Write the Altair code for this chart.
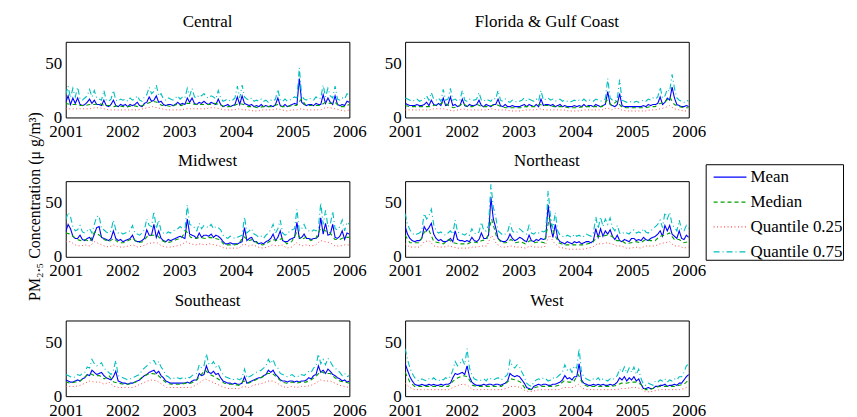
import altair as alt
import pandas as pd

regions = ["Central", "Florida & Gulf Coast", "Midwest", "Northeast", "Southeast", "West"]
series_names = ["Mean", "Median", "Quantile 0.25", "Quantile 0.75"]
series_colors = ["#0000ff", "#00a000", "#ff4d4d", "#00bfbf"]
series_dashes = [[1, 0], [4, 3], [1, 2.5], [6, 3, 1, 3]]
year_ticks = [2001, 2002, 2003, 2004, 2005, 2006]
y_ticks = [0, 50]
y_title = "PM₂.₅ Concentration (μ g/m³)"

# ---- Central ----
central_q75 = [21,29,18,27,19,28,17,16,18,20,26,19,25,18,17,16,25,16,15,17,25,16,15,17,
               16,17,15,18,16,17,20,16,15,19,21,28,22,24,30,20,22,17,16,18,17,16,18,20,
               17,19,18,27,20,27,19,18,21,20,22,19,18,20,19,17,25,18,15,16,17,15,16,18,
               29,18,30,19,17,16,18,15,16,15,17,15,16,14,16,15,17,26,16,15,17,15,16,18,
               19,18,46,20,17,16,18,17,16,19,17,18,30,19,27,20,18,29,17,16,18,17,22,21]
central_mean = [14,20,12,18,13,18,12,11,12,14,17,13,16,12,12,11,16,11,10,12,16,11,10,12,
                11,12,10,12,11,12,14,11,10,13,14,19,15,16,20,14,15,12,11,12,12,11,12,14,
                12,13,12,18,14,18,13,12,14,13,15,13,12,14,13,12,17,12,10,11,12,10,11,12,
                19,12,20,13,12,11,12,10,11,10,12,10,11,10,11,10,12,18,11,10,12,10,11,12,
                13,12,36,14,12,11,12,12,11,13,12,12,21,13,18,14,12,20,12,11,12,11,15,14]
central_median = [13,12,12,11,11,12,12,13,11,11,10,11,
                  10,10,11,10,11,13,15,14,11,11,10,12,
                  11,13,13,12,12,12,12,13,12,10,10,11,
                  13,12,10,10,9,10,10,10,12,10,10,11,
                  11,17,11,11,11,11,14,13,14,10,10,12]
central_q25 = [8,8,8,8,8,8,9,9,8,7,7,7,
               7,7,7,7,8,9,10,9,8,7,7,7,
               7,8,8,8,8,8,9,9,8,7,7,7,
               8,7,7,6,6,7,7,7,8,7,6,7,
               7,8,7,7,7,7,9,9,8,7,6,7]

# ---- Florida & Gulf Coast ----
florida_q75 = [18,17,16,15,16,17,15,16,17,20,16,23,17,16,18,15,26,16,17,27,16,17,15,16,
               25,16,15,17,16,16,17,23,16,15,17,16,15,18,17,25,16,15,17,15,14,16,15,14,
               15,16,18,15,17,16,15,17,15,25,16,17,18,16,17,15,16,17,15,16,15,14,15,16,
               15,16,15,17,15,16,16,15,17,16,15,16,17,36,18,16,15,17,35,16,15,14,15,14,
               14,15,14,15,16,15,17,16,18,17,19,28,18,20,26,24,40,27,18,16,15,14,16,15]
florida_mean = [13,12,11,11,11,12,11,11,12,14,11,16,12,11,13,11,18,11,12,19,11,12,10,11,
                17,11,10,12,11,11,12,16,11,10,12,11,10,12,12,17,11,10,12,10,10,11,10,10,
                10,11,12,10,12,11,10,12,10,17,11,12,12,11,12,10,11,12,10,11,10,10,10,11,
                10,11,10,12,10,11,11,10,12,11,10,11,12,24,12,11,10,12,22,11,10,10,10,10,
                10,10,10,10,11,10,12,11,12,12,13,19,12,14,18,16,28,18,12,11,10,10,11,10]
florida_median = [11,10,10,10,10,10,11,12,14,11,9,10,
                  13,10,10,12,10,10,11,12,10,9,9,9,
                  9,10,10,10,12,11,11,10,10,10,9,9,
                  9,10,10,10,10,10,16,11,15,10,9,9,
                  9,9,9,10,10,13,14,19,12,10,9,9]
florida_q25 = [7,7,7,7,7,7,8,8,8,7,6,7,
               8,7,7,7,7,7,8,7,7,7,6,6,
               6,7,7,7,8,7,7,7,7,7,6,6,
               6,7,7,7,7,7,9,7,9,7,6,6,
               6,6,6,7,7,8,9,11,8,7,6,6]

# ---- Midwest ----
midwest_q75 = [34,41,37,28,24,25,29,23,22,24,26,22,30,37,38,26,25,23,22,24,34,25,22,23,
               21,22,23,24,29,22,21,20,22,25,35,29,28,42,26,34,24,22,21,23,22,24,25,26,
               28,26,24,48,30,29,27,24,31,26,29,28,27,30,26,28,27,25,20,18,17,19,18,17,
               18,19,20,37,22,24,26,21,20,18,19,17,20,22,25,30,22,26,34,22,20,21,24,25,
               26,44,24,26,30,25,24,23,25,24,27,50,30,43,28,30,42,26,25,28,34,24,32,30]
midwest_mean = [23,30,26,19,17,17,20,16,15,17,18,15,21,27,28,18,17,16,15,17,24,17,15,16,
                14,15,16,17,20,15,14,14,15,17,25,20,20,30,18,24,17,15,14,16,15,16,17,18,
                19,18,17,35,21,20,19,17,22,18,20,20,19,21,18,20,19,17,14,12,12,13,12,12,
                12,13,14,27,15,17,18,14,14,12,13,12,14,15,17,21,15,18,24,15,14,14,16,17,
                18,32,17,18,21,17,17,16,17,17,19,36,21,31,20,21,30,18,17,19,24,16,22,21]
midwest_median = [22,21,17,15,16,14,23,20,16,14,17,13,
                  13,15,17,13,14,19,20,20,15,13,14,16,
                  17,24,18,17,18,17,18,17,16,11,11,11,
                  12,19,15,16,12,11,13,16,15,17,12,14,
                  22,16,18,15,17,26,24,22,16,16,18,18]
midwest_q25 = [14,14,11,10,11,10,14,12,10,9,11,9,
               9,10,11,9,10,12,13,13,10,9,9,10,
               11,14,12,11,12,11,12,11,10,8,8,8,
               8,12,10,11,9,8,9,11,10,11,8,9,
               13,10,11,10,11,15,14,13,10,10,11,11]

# ---- Northeast ----
northeast_q75 = [40,30,25,22,20,21,22,24,40,35,38,44,30,24,22,23,21,20,22,24,21,34,23,22,
                 21,20,22,20,26,22,21,23,32,24,24,29,67,46,37,24,22,20,21,23,31,24,22,23,
                 26,24,22,21,29,22,21,23,22,24,23,24,61,38,26,41,24,20,19,18,20,19,18,21,
                 19,20,18,19,21,20,19,22,37,26,37,28,35,30,36,27,24,29,22,21,23,22,21,24,
                 25,22,23,22,26,23,22,24,26,28,30,34,27,41,35,41,30,27,24,34,25,24,29,26]
northeast_mean = [28,21,17,15,14,15,15,17,28,24,27,31,21,17,15,16,14,14,15,17,14,24,16,15,
                  15,14,15,14,18,15,14,16,22,17,17,20,55,35,27,17,15,14,14,16,21,17,15,16,
                  18,17,15,14,20,15,14,16,15,17,16,17,48,28,18,30,17,14,13,12,14,13,12,14,
                  13,14,12,13,14,14,13,15,26,18,26,19,24,21,25,19,16,20,15,14,16,15,14,17,
                  17,15,16,15,18,16,15,17,18,19,21,24,19,29,24,29,21,19,17,24,17,16,20,18]
northeast_median = [20,13,13,13,23,24,14,13,12,16,13,12,
                    12,12,14,13,15,16,35,19,13,13,16,13,
                    14,12,15,13,14,13,36,21,13,11,11,11,
                    11,11,12,13,19,19,20,19,15,15,12,13,
                    14,13,16,15,15,19,20,22,16,16,13,14]
northeast_q25 = [12,9,9,9,14,15,10,9,9,10,9,8,
                 8,8,9,9,10,10,20,12,9,9,10,9,
                 9,8,10,9,9,9,20,13,9,8,7,7,
                 7,7,8,9,12,12,13,12,10,10,8,8,
                 9,8,10,10,10,12,13,14,10,10,8,9]

# ---- Southeast ----
southeast_q75 = [20,19,18,17,18,20,19,21,22,27,26,34,30,28,29,31,26,24,22,20,24,33,19,18,
                 17,16,15,16,17,18,19,20,24,26,28,30,32,33,29,32,27,24,19,18,16,17,16,17,
                 16,17,16,18,17,19,20,21,29,26,28,39,30,29,32,27,29,24,20,18,17,16,15,16,
                 16,15,17,25,17,18,19,21,22,23,24,26,28,34,30,34,28,26,21,20,19,18,19,20,
                 18,19,18,20,19,21,23,22,26,28,39,30,34,29,35,32,28,26,24,22,19,21,18,19]
southeast_mean = [15,14,13,13,14,15,14,16,17,20,19,24,22,20,21,22,19,17,16,15,18,23,14,13,
                  12,12,11,12,12,13,14,15,17,19,20,22,23,24,21,23,19,17,14,13,12,12,12,12,
                  12,12,12,13,12,14,15,15,21,19,20,28,22,21,23,20,21,17,14,13,12,12,11,12,
                  11,11,12,18,12,13,14,15,16,17,17,19,20,24,22,24,20,18,15,14,14,13,14,14,
                  13,14,13,14,14,15,17,16,19,20,28,22,24,21,25,23,20,19,17,16,14,15,13,14]
southeast_median = [13,12,13,14,18,21,19,19,16,19,13,12,
                    11,11,12,14,18,20,21,20,16,12,11,11,
                    11,12,12,14,19,24,20,18,15,12,11,11,
                    10,14,12,14,16,18,21,21,17,13,12,13,
                    12,13,13,15,18,23,21,21,17,14,13,12]
southeast_q25 = [9,9,9,10,12,14,13,13,11,13,9,8,
                 8,8,8,10,12,14,15,14,11,8,8,8,
                 8,8,8,10,13,16,14,12,10,8,7,7,
                 7,9,8,10,11,12,14,14,12,9,8,9,
                 8,9,9,10,12,15,14,14,12,10,9,8]

# ---- West ----
west_q75 = [44,34,26,21,17,15,14,16,15,14,16,15,17,15,14,16,15,17,16,18,24,32,28,30,
            34,29,44,26,20,16,15,14,15,16,14,17,16,15,16,17,15,16,18,20,33,28,26,29,
            27,22,18,12,10,9,13,15,16,15,17,16,14,15,17,16,18,20,22,29,24,26,22,28,
            26,44,22,18,16,15,14,16,15,17,14,16,15,14,16,15,17,19,25,22,27,21,26,22,
            27,20,25,16,11,10,12,11,10,14,13,15,14,16,13,15,14,16,15,18,18,22,28,30]
west_mean = [30,24,18,14,11,10,10,11,10,10,11,10,11,10,10,11,10,11,11,12,17,21,20,21,
             22,20,28,18,13,11,10,10,10,11,10,11,11,10,11,11,10,11,12,14,21,19,18,19,
             18,15,12,8,7,6,9,10,11,10,11,11,10,10,11,11,12,13,15,19,16,17,15,18,
             18,30,15,12,11,10,10,11,10,11,10,11,10,10,11,10,11,13,17,15,18,14,17,15,
             18,14,16,11,7,7,8,7,7,9,9,10,10,11,9,10,10,11,10,12,12,15,18,20]
west_median = [22,13,9,9,9,9,9,9,9,9,14,17,
               19,18,10,9,9,9,9,9,9,12,16,15,
               13,7,6,8,9,9,9,9,10,14,13,13,
               20,11,9,9,9,9,9,9,10,12,12,13,
               13,11,6,6,8,9,9,9,9,10,11,15]
west_q25 = [12,8,6,6,6,6,6,6,6,6,8,10,
            11,10,6,6,6,6,6,6,6,7,9,9,
            8,5,4,5,6,6,6,6,6,8,8,8,
            11,7,6,6,6,6,6,6,6,7,7,8,
            8,7,4,4,5,6,6,6,6,6,7,9]

panel_data = {
    "Central": (central_mean, central_median, central_q25, central_q75),
    "Florida & Gulf Coast": (florida_mean, florida_median, florida_q25, florida_q75),
    "Midwest": (midwest_mean, midwest_median, midwest_q25, midwest_q75),
    "Northeast": (northeast_mean, northeast_median, northeast_q25, northeast_q75),
    "Southeast": (southeast_mean, southeast_median, southeast_q25, southeast_q75),
    "West": (west_mean, west_median, west_q25, west_q75),
}

half_month_dates = pd.date_range("2001-01-01", "2006-01-01", periods=120)
month_dates = pd.date_range("2001-01-01", "2006-01-01", periods=60)

rows = []
for region in regions:
    for s, vals in zip(series_names, panel_data[region]):
        dates = half_month_dates if len(vals) == 120 else month_dates
        for d, v in zip(dates, vals):
            rows.append({"region": region, "series": s,
                         "date": d.strftime("%Y-%m-%dT%H:%M:%S"), "value": v})
df = pd.DataFrame(rows)

FONT = "Liberation Serif"
x_domain = [alt.DateTime(year=2001, month=1, date=1), alt.DateTime(year=2006, month=1, date=1)]
x_values = [alt.DateTime(year=y, month=1, date=1) for y in year_ticks]

color_scale = alt.Scale(domain=series_names, range=series_colors)
dash_scale = alt.Scale(domain=series_names, range=series_dashes)
legend = alt.Legend(title=None, orient="none", legendX=643, legendY=123,
                    labelFont=FONT, labelFontSize=17, labelColor="black",
                    symbolType="M-0.42,0H2.33", symbolSize=576, symbolStrokeWidth=1.2,
                    rowPadding=4, padding=0, labelOffset=19, labelLimit=300,
                    strokeColor="black", fillColor="white")

line_widths = {"Mean": 1.1, "Median": 1.1, "Quantile 0.25": 1.0, "Quantile 0.75": 1.1}


def panel(region):
    sub = df[df.region == region]
    layers = []
    for s in series_names:
        layers.append(
            alt.Chart()
            .transform_filter(alt.datum.series == s)
            .mark_line(strokeWidth=line_widths[s], clip=True)
            .encode(
                x=alt.X("date:T",
                        scale=alt.Scale(domain=x_domain, nice=False),
                        axis=alt.Axis(values=x_values, format="%Y", title=None,
                                      labelFlush=False, labelOverlap=False,
                                      labelPadding=6, labelFont=FONT,
                                      labelFontSize=17, labelColor="black")),
                y=alt.Y("value:Q",
                        scale=alt.Scale(domain=[0, 70], nice=False),
                        axis=alt.Axis(values=y_ticks, title=None, labelPadding=4,
                                      labelFont=FONT, labelFontSize=17,
                                      labelColor="black")),
                color=alt.Color("series:N", scale=color_scale, legend=legend),
                strokeDash=alt.StrokeDash("series:N", scale=dash_scale, legend=legend),
            )
        )
    return alt.layer(*layers, data=sub).properties(
        width=285, height=76,
        title=alt.TitleParams(region, font=FONT, fontSize=17, fontWeight="normal",
                              offset=11, color="black"),
    )


charts = [panel(r) for r in regions]

chart = (
    alt.concat(*charts, columns=2, spacing={"row": 64, "column": 56}, bounds="flush")
    .properties(
        padding={"left": 19, "top": 3, "right": 5, "bottom": 0},
        title=alt.TitleParams(y_title, orient="left", anchor="middle", font=FONT,
                              fontSize=16, fontWeight="normal", color="black",
                              offset=1, dx=9),
    )
    .configure(font=FONT)
    .configure_view(stroke="black", strokeWidth=1)
    .configure_axis(domain=False, ticks=False, grid=False)
)

chart.save("out.html", embed_options={"renderer": "svg", "actions": False})
